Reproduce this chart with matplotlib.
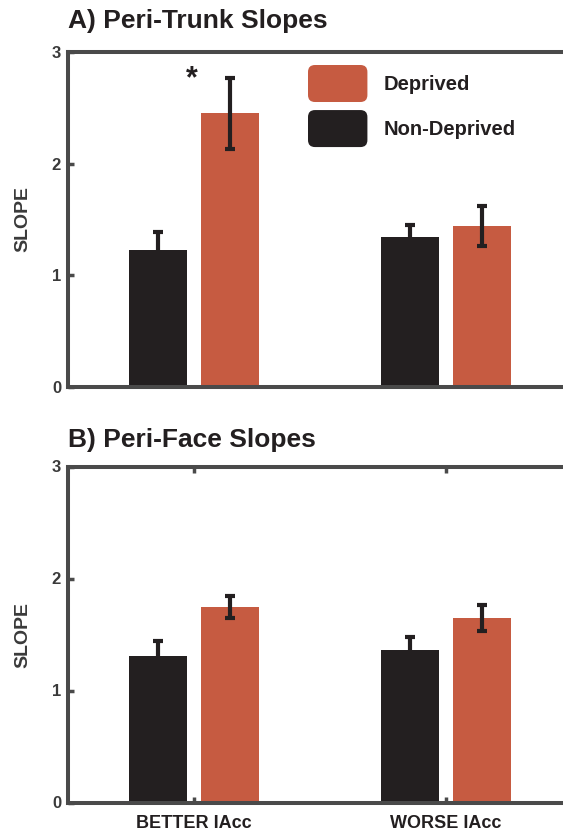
import numpy as np
import matplotlib
matplotlib.use("Agg")
import matplotlib.pyplot as plt
from matplotlib.patches import Patch, FancyBboxPatch
from matplotlib.legend_handler import HandlerPatch

plt.rcParams['font.family'] = ['Liberation Sans', 'DejaVu Sans']
plt.rcParams['font.weight'] = 'bold'
plt.rcParams['axes.titleweight'] = 'bold'
plt.rcParams['axes.labelweight'] = 'bold'

# data
groups = ['BETTER IAcc', 'WORSE IAcc']
series = ['Deprived', 'Non-Deprived']

trunk_nondep = [1.23, 1.34]
trunk_nondep_err = [0.16, 0.11]
trunk_dep = [2.45, 1.44]
trunk_dep_err = [0.32, 0.18]

face_nondep = [1.31, 1.36]
face_nondep_err = [0.13, 0.12]
face_dep = [1.745, 1.65]
face_dep_err = [0.10, 0.115]

yticks = [0, 1, 2, 3]

ORANGE = '#C65B41'
DARK = '#231F20'
GREY = '#4A4A4A'


class RoundHandler(HandlerPatch):
    def create_artists(self, legend, orig_handle, xdescent, ydescent,
                       width, height, fontsize, trans):
        p = FancyBboxPatch((-xdescent, -ydescent), width, height,
                           boxstyle="round,pad=0,rounding_size=5",
                           fc=orig_handle.get_facecolor(), ec='none',
                           transform=trans)
        return [p]


W, H = 563, 833
fig = plt.figure(figsize=(W / 100, H / 100), dpi=100)

x = np.arange(1, len(groups) + 1)
off = 0.143
bw = 0.23


def panel(ax, nondep, nondep_err, dep, dep_err, title, pad, show_x):
    ax.bar(x - off, nondep, bw, color=DARK, zorder=2)
    ax.bar(x + off, dep, bw, color=ORANGE, zorder=2)
    ax.errorbar(x - off, nondep, yerr=nondep_err, fmt='none', ecolor=DARK,
                elinewidth=3, capsize=3.5, capthick=3, zorder=3)
    ax.errorbar(x + off, dep, yerr=dep_err, fmt='none', ecolor=DARK,
                elinewidth=3, capsize=3.5, capthick=3, zorder=3)
    ax.set_xlim(0.5, 2.5)
    ax.set_ylim(0, 3)
    ax.set_yticks(yticks)
    for s in ['left', 'top', 'bottom']:
        ax.spines[s].set_linewidth(2.9)
        ax.spines[s].set_color(GREY)
        ax.spines[s].set_zorder(4)
    ax.spines['right'].set_visible(False)
    ax.tick_params(axis='y', direction='in', length=4, width=2.5,
                   color=GREY, labelcolor='#3A3A3A', labelsize=12, pad=5)
    ax.set_xticks(x)
    if show_x:
        ax.set_xticklabels(groups)
        ax.tick_params(axis='x', direction='in', length=4, width=2.5,
                       color=GREY, top=True, labelsize=13,
                       labelcolor=DARK, pad=9)
    else:
        ax.tick_params(axis='x', length=0, labelbottom=False)
    ax.set_ylabel('SLOPE', fontsize=14, color='#3A3A3A', labelpad=15,
                  fontweight='bold')
    ax.set_title(title, loc='left', fontsize=19, color=DARK, pad=pad,
                 fontweight='bold')


left = 68 / W
width = 504 / W
axA = fig.add_axes([left, (H - 387) / H, width, 335 / H])
axB = fig.add_axes([left, (H - 802.5) / H, width, 336 / H])

panel(axA, trunk_nondep, trunk_nondep_err, trunk_dep, trunk_dep_err,
      'A) Peri-Trunk Slopes', 17, False)
panel(axB, face_nondep, face_nondep_err, face_dep, face_dep_err,
      'B) Peri-Face Slopes', 14, True)

axA.text(0.992, 2.76, '*', ha='center', va='center', fontsize=22,
         color=DARK)

handles = [Patch(facecolor=ORANGE), Patch(facecolor=DARK)]
fs = 14.5
axA.legend(handles, series, handler_map={Patch: RoundHandler()},
           loc='upper left', bbox_to_anchor=(308 / W, 1 - 65 / H),
           bbox_transform=fig.transFigure, frameon=False, fontsize=fs,
           handlelength=2.95, handleheight=2.45, handletextpad=0.8,
           labelspacing=0.4, borderpad=0, borderaxespad=0,
           labelcolor=DARK)

fig.savefig('out.png', dpi=100)
